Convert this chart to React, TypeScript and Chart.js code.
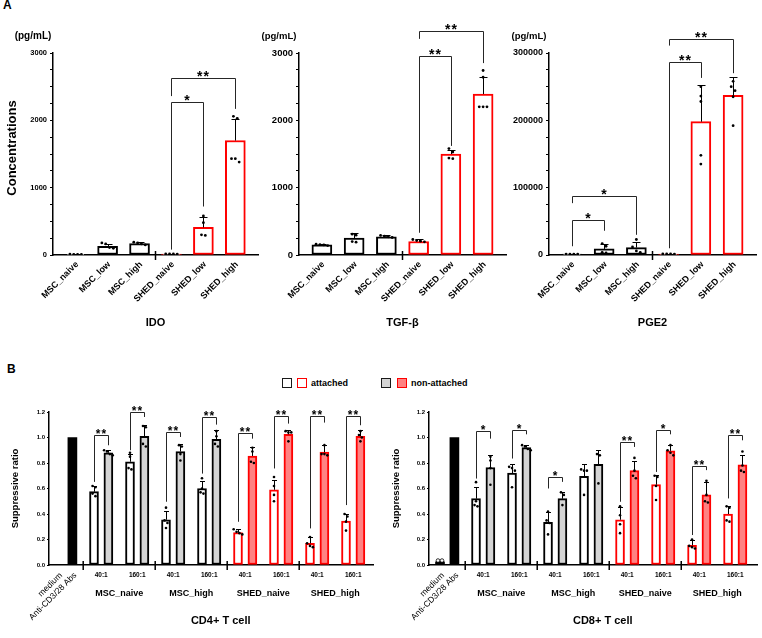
import { useEffect, useRef } from 'react';
import { Chart, registerables } from 'chart.js';

Chart.register(...registerables);

const FONT = "'Liberation Sans', Arial, Helvetica, sans-serif";
const INK = '#000000';
const LINE = '#262626';
const RED = '#ff0000';
const PINK = '#ff8282';
const GREY = '#d4d4d4';

// ---------- A: cytokine secretion (pg/mL) ----------
const cytokineGroups = ['MSC_naive', 'MSC_low', 'MSC_high', 'SHED_naive', 'SHED_low', 'SHED_high'];

const idoMeans = [10, 130, 170, 15, 410, 1700];
const idoSds = [4, 40, 20, 5, 150, 320];
const idoPoints = [
  [10, 11, 9, 10],
  [180, 165, 110, 100],
  [190, 180, 165, 150],
  [15, 16, 14, 15],
  [580, 480, 300, 290],
  [2060, 2030, 1430, 1430, 1380],
];
// [from, to, bracket level, left leg end, right leg end, label]
const idoBrackets: Bracket[] = [
  [3, 4, 2270, 80, 720, '*'],
  [3, 5, 2635, 2360, 2170, '**'],
];

const tgfMeans = [150, 250, 270, 200, 1500, 2390];
const tgfSds = [12, 75, 25, 45, 65, 260];
const tgfPoints = [
  [160, 155, 150, 140],
  [310, 295, 200, 190],
  [290, 280, 270, 260],
  [230, 215, 205, 195],
  [1580, 1530, 1440, 1430],
  [2740, 2640, 2200, 2200, 2200],
];
const tgfBrackets: Bracket[] = [
  [3, 4, 2950, 330, 1620, '**'],
  [3, 5, 3320, 3210, 2850, '**'],
];

const pgeMeans = [1200, 9000, 11000, 1500, 198000, 237000];
const pgeSds = [300, 8000, 9000, 400, 55000, 28000];
const pgePoints = [
  [1200, 1100, 1300, 1200],
  [17000, 13000, 4000, 3000],
  [23000, 12000, 6000, 4000],
  [1500, 1400, 1600, 1500],
  [250000, 236000, 228000, 148000, 135000],
  [258000, 250000, 244000, 235000, 192000],
];
const pgeBrackets: Bracket[] = [
  [0, 1, 52000, 13000, 36000, '*'],
  [0, 2, 88000, 77000, 30000, '*'],
  [3, 4, 287000, 10000, 263000, '**'],
  [3, 5, 321000, 311000, 270000, '**'],
];

// ---------- B: suppressive ratio of T cell proliferation ----------
const controlLabels = ['medium', 'Anti-CD3/28 Abs'];
const cellGroups = ['MSC_naive', 'MSC_high', 'SHED_naive', 'SHED_high'];
const ratios = ['40:1', '160:1'];

const cd4Controls = [0.004, 1.0];
const cd4Attached = [0.575, 0.81, 0.355, 0.6, 0.255, 0.59, 0.17, 0.345];
const cd4AttachedSd = [0.045, 0.06, 0.07, 0.057, 0.025, 0.08, 0.05, 0.055];
const cd4AttachedPoints = [
  [0.62, 0.61, 0.56, 0.54],
  [0.88, 0.85, 0.76, 0.75],
  [0.45, 0.35, 0.33, 0.29],
  [0.68, 0.6, 0.57, 0.56],
  [0.28, 0.26, 0.25, 0.24],
  [0.69, 0.62, 0.55, 0.5],
  [0.22, 0.17, 0.15, 0.14],
  [0.4, 0.38, 0.34, 0.27],
];
const cd4NonAttached = [0.88, 1.01, 0.89, 0.985, 0.855, 1.025, 0.885, 1.01];
const cd4NonAttachedSd = [0.02, 0.085, 0.057, 0.07, 0.07, 0.035, 0.06, 0.045];
const cd4NonAttachedPoints = [
  [0.9, 0.89, 0.87, 0.86],
  [1.09, 1.08, 0.95, 0.93],
  [0.94, 0.93, 0.87, 0.82],
  [1.05, 1.01, 0.95, 0.93],
  [0.92, 0.89, 0.81, 0.8],
  [1.05, 1.04, 1.04, 0.97],
  [0.94, 0.87, 0.87, 0.86],
  [1.05, 1.02, 1.0, 0.97],
];
const cd4SigLabels = ['**', '**', '**', '**', '**', '**', '**', '**'];
const cd4SigLevel = [1.017, 1.2, 1.044, 1.161, 1.038, 1.169, 1.169, 1.169];
const cd4SigLeftEnd = [0.652, 0.9, 0.496, 0.717, 0.339, 0.757, 0.287, 0.47];
const cd4SigRightEnd = [0.939, 1.161, 1.004, 1.101, 0.991, 1.109, 1.117, 1.096];

const cd8Controls = [0.025, 1.0];
const cd8MediumPoints = [0.035, 0.035];
const cd8Attached = [0.52, 0.72, 0.335, 0.695, 0.355, 0.63, 0.155, 0.4];
const cd8AttachedSd = [0.095, 0.075, 0.08, 0.1, 0.1, 0.075, 0.04, 0.06];
const cd8AttachedPoints = [
  [0.65, 0.5, 0.47, 0.46],
  [0.77, 0.76, 0.74, 0.61],
  [0.42, 0.35, 0.33, 0.24],
  [0.75, 0.74, 0.74, 0.55],
  [0.46, 0.39, 0.32, 0.25],
  [0.7, 0.69, 0.62, 0.51],
  [0.2, 0.15, 0.14, 0.13],
  [0.46, 0.45, 0.35, 0.34],
];
const cd8NonAttached = [0.765, 0.92, 0.52, 0.79, 0.74, 0.895, 0.55, 0.785];
const cd8NonAttachedSd = [0.1, 0.025, 0.05, 0.115, 0.075, 0.045, 0.1, 0.075];
const cd8NonAttachedPoints = [
  [0.85, 0.82, 0.76, 0.63],
  [0.94, 0.93, 0.91, 0.9],
  [0.57, 0.55, 0.47],
  [0.87, 0.86, 0.64],
  [0.84, 0.74, 0.7, 0.68],
  [0.94, 0.9, 0.88, 0.86],
  [0.66, 0.55, 0.5, 0.49],
  [0.89, 0.78, 0.74, 0.73],
];
const cd8SigLabels = ['*', '*', '*', '', '**', '*', '**', '**'];
const cd8SigLevel = [1.049, 1.062, 0.691, 0, 0.965, 1.062, 0.777, 1.023];
const cd8SigLeftEnd = [0.678, 0.835, 0.6, 0, 0.496, 0.73, 0.235, 0.522];
const cd8SigRightEnd = [0.991, 1.025, 0.652, 0, 0.926, 1.025, 0.744, 0.978];

type Bracket = [number, number, number, number, number, string];

interface OverlaySpec {
  errors: { x: number; y: number; sd: number }[];
  cap: number;
  brackets: Bracket[];
  starSize: number;
  starLift: number;
  breaks: number[];
  text: (chart: any, ctx: CanvasRenderingContext2D) => void;
}

// Side-by-side placement of replicate dots that sit at almost the same height
function spread(values: number[], tol: number, step: number): number[] {
  const order = values.map((_, i) => i).sort((a, b) => values[b] - values[a]);
  const offsets = new Array(values.length).fill(0);
  let cluster: number[] = [];
  const flush = () => {
    cluster.forEach((idx, k) => {
      offsets[idx] = (k - (cluster.length - 1) / 2) * step;
    });
    cluster = [];
  };
  order.forEach((idx) => {
    if (cluster.length && Math.abs(values[cluster[cluster.length - 1]] - values[idx]) > tol) flush();
    cluster.push(idx);
  });
  flush();
  return offsets;
}

function dotData(xs: number[], pts: number[][], tol: number, step: number) {
  return pts.flatMap((vals, i) => {
    const off = spread(vals, tol, step);
    return vals.map((v, k) => ({ x: xs[i] + off[k], y: v }));
  });
}

function overlay(spec: OverlaySpec) {
  return {
    id: 'overlay',
    afterDatasetsDraw(chart: any) {
      const { ctx, chartArea } = chart;
      const xs = chart.scales.x;
      const ys = chart.scales.y;
      ctx.save();
      // error bars (mean + SD)
      ctx.strokeStyle = INK;
      ctx.lineWidth = 1;
      spec.errors.forEach((e) => {
        const px = Math.round(xs.getPixelForValue(e.x)) + 0.5;
        const y0 = ys.getPixelForValue(e.y);
        const y1 = Math.round(ys.getPixelForValue(e.y + e.sd)) + 0.5;
        ctx.beginPath();
        ctx.moveTo(px, y0);
        ctx.lineTo(px, y1);
        ctx.moveTo(px - spec.cap, y1);
        ctx.lineTo(px + spec.cap, y1);
        ctx.stroke();
      });
      // axis break marks
      ctx.lineWidth = 1.5;
      spec.breaks.forEach((b) => {
        const px = xs.getPixelForValue(b);
        ctx.beginPath();
        ctx.moveTo(px, chartArea.bottom - 4);
        ctx.lineTo(px, chartArea.bottom + 5);
        ctx.stroke();
      });
      // significance brackets
      ctx.strokeStyle = LINE;
      ctx.lineWidth = 1;
      ctx.fillStyle = INK;
      ctx.font = `bold ${spec.starSize}px ${FONT}`;
      ctx.textAlign = 'center';
      ctx.textBaseline = 'alphabetic';
      spec.brackets.forEach(([x1, x2, level, l, r, label]) => {
        if (!label) return;
        const a = Math.round(xs.getPixelForValue(x1)) + 0.5;
        const b = Math.round(xs.getPixelForValue(x2)) + 0.5;
        const t = Math.round(ys.getPixelForValue(level)) + 0.5;
        ctx.beginPath();
        ctx.moveTo(a, ys.getPixelForValue(l));
        ctx.lineTo(a, t);
        ctx.lineTo(b, t);
        ctx.lineTo(b, ys.getPixelForValue(r));
        ctx.stroke();
        (ctx as any).letterSpacing = '1px';
        ctx.fillText(label, (a + b) / 2, t + spec.starLift);
        (ctx as any).letterSpacing = '0px';
      });
      spec.text(chart, ctx);
      ctx.restore();
    },
  };
}

interface CytokineSpec {
  title: string;
  yTitle?: string;
  means: number[];
  sds: number[];
  points: number[][];
  brackets: Bracket[];
  max: number;
  minorStep: number;
  majorStep: number;
  axisWidth: number;
  padRight: number;
  tickSize: number;
  unitSize: number;
}

function cytokineConfig(s: CytokineSpec): any {
  const xs = cytokineGroups.map((_, i) => i);
  const shed = (i: number) => cytokineGroups[i].startsWith('SHED');
  return {
    type: 'bar',
    data: {
      datasets: [
        {
          type: 'bar',
          data: xs.map((i) => ({ x: i, y: s.means[i] })),
          backgroundColor: '#ffffff',
          borderColor: xs.map((i) => (shed(i) ? RED : INK)),
          borderWidth: 2,
          borderSkipped: false,
          barThickness: 20,
          grouped: false,
          order: 2,
        },
        {
          type: 'scatter',
          data: dotData(xs, s.points, s.max * 0.02, 0.12),
          pointRadius: 1.4,
          pointBackgroundColor: INK,
          pointBorderWidth: 0,
          order: 1,
        },
      ],
    },
    options: {
      animation: false,
      responsive: false,
      events: [],
      layout: { padding: { top: 53, right: s.padRight, left: 0, bottom: 0 } },
      plugins: { legend: { display: false }, tooltip: { enabled: false } },
      scales: {
        x: {
          type: 'linear',
          min: -0.71,
          max: 5.71,
          offset: false,
          grid: { display: false },
          ticks: { display: false },
          border: { display: true, color: INK, width: 1.5 },
          afterFit: (sc: any) => {
            sc.height = 80;
          },
        },
        y: {
          type: 'linear',
          min: 0,
          max: s.max,
          grid: { display: true, drawOnChartArea: false, drawTicks: true, tickLength: 3, color: INK, lineWidth: 1 },
          border: { display: true, color: INK, width: 1.5 },
          ticks: {
            stepSize: s.minorStep,
            autoSkip: false,
            padding: 3,
            color: INK,
            font: { family: FONT, size: s.tickSize, weight: 'bold' },
            callback: (v: number) => (Math.abs(v % s.majorStep) < 1e-6 ? String(v) : ''),
          },
          afterFit: (sc: any) => {
            sc.width = s.axisWidth;
          },
        },
      },
    },
    plugins: [
      overlay({
        errors: xs.map((i) => ({ x: i, y: s.means[i], sd: s.sds[i] })),
        cap: 4,
        brackets: s.brackets,
        starSize: 14,
        starLift: 2,
        breaks: [2.5],
        text: (chart, ctx) => {
          const area = chart.chartArea;
          const x = chart.scales.x;
          ctx.fillStyle = INK;
          ctx.font = `bold 9px ${FONT}`;
          ctx.textAlign = 'right';
          ctx.textBaseline = 'middle';
          cytokineGroups.forEach((g, i) => {
            ctx.save();
            ctx.translate(x.getPixelForValue(i) + 1.5, area.bottom + 8);
            ctx.rotate(-Math.PI / 4);
            ctx.fillText(g, 0, 0);
            ctx.restore();
          });
          ctx.textAlign = 'center';
          ctx.font = `bold ${s.unitSize}px ${FONT}`;
          ctx.fillText('(pg/mL)', area.left - 20, area.top - 17);
          ctx.font = `bold 11px ${FONT}`;
          ctx.fillText(s.title, (area.left + area.right) / 2, area.bottom + 68);
          if (s.yTitle) {
            ctx.save();
            ctx.translate(12, area.top + 95);
            ctx.rotate(-Math.PI / 2);
            ctx.font = `bold 13px ${FONT}`;
            ctx.fillText(s.yTitle, 0, 0);
            ctx.restore();
          }
        },
      }),
    ],
  };
}

interface SuppressionSpec {
  title: string;
  controls: number[];
  mediumPoints: number[];
  attached: number[];
  attachedSd: number[];
  attachedPoints: number[][];
  nonAttached: number[];
  nonAttachedSd: number[];
  nonAttachedPoints: number[][];
  sigLabels: string[];
  sigLevel: number[];
  sigLeft: number[];
  sigRight: number[];
  min: number;
  max: number;
  padRight: number;
  yTitleX: number;
}

// x layout: two control bars, then pairs (attached | non-attached) per ratio and cell group
const pairX = (p: number) => 2.5 + 2.5 * p;

function suppressionConfig(s: SuppressionSpec): any {
  const pairs = s.attached.map((_, p) => p);
  const shed = (p: number) => cellGroups[Math.floor(p / ratios.length)].startsWith('SHED');
  const attX = pairs.map(pairX);
  const nonX = pairs.map((p) => pairX(p) + 1);
  const barCommon = { type: 'bar', barThickness: 9, grouped: false, borderSkipped: false, order: 3 };
  return {
    type: 'bar',
    data: {
      datasets: [
        {
          ...barCommon,
          data: s.controls.map((v, j) => ({ x: j, y: v })),
          backgroundColor: INK,
          borderColor: INK,
          borderWidth: 0,
        },
        {
          ...barCommon,
          data: pairs.map((p) => ({ x: attX[p], y: s.attached[p] })),
          backgroundColor: '#ffffff',
          borderColor: pairs.map((p) => (shed(p) ? RED : INK)),
          borderWidth: 2,
        },
        {
          ...barCommon,
          data: pairs.map((p) => ({ x: nonX[p], y: s.nonAttached[p] })),
          backgroundColor: pairs.map((p) => (shed(p) ? PINK : GREY)),
          borderColor: pairs.map((p) => (shed(p) ? RED : INK)),
          borderWidth: 2,
        },
        {
          type: 'scatter',
          data: [
            ...dotData(attX, s.attachedPoints, 0.025, 0.2),
            ...dotData(nonX, s.nonAttachedPoints, 0.025, 0.2),
          ],
          pointRadius: 1.3,
          pointBackgroundColor: INK,
          pointBorderWidth: 0,
          order: 1,
        },
        {
          type: 'scatter',
          data: dotData([0], [s.mediumPoints], 0.025, 0.28),
          pointRadius: 1.8,
          pointBackgroundColor: '#ffffff',
          pointBorderColor: INK,
          pointBorderWidth: 0.8,
          order: 0,
        },
      ],
    },
    options: {
      animation: false,
      responsive: false,
      events: [],
      layout: { padding: { top: 17, right: s.padRight, left: 0, bottom: 0 } },
      plugins: { legend: { display: false }, tooltip: { enabled: false } },
      scales: {
        x: {
          type: 'linear',
          min: s.min,
          max: s.max,
          offset: false,
          grid: { display: false },
          ticks: { display: false },
          border: { display: true, color: INK, width: 1.5 },
          afterFit: (sc: any) => {
            sc.height = 73;
          },
        },
        y: {
          type: 'linear',
          min: 0,
          max: 1.2,
          grid: { display: true, drawOnChartArea: false, drawTicks: true, tickLength: 2, color: INK, lineWidth: 1 },
          border: { display: true, color: INK, width: 1.5 },
          ticks: {
            stepSize: 0.2,
            autoSkip: false,
            padding: 2,
            color: INK,
            font: { family: FONT, size: 6, weight: 'bold' },
            callback: (v: number) => Number(v).toFixed(1),
          },
          afterFit: (sc: any) => {
            sc.width = 49;
          },
        },
      },
    },
    plugins: [
      overlay({
        errors: [
          ...pairs.map((p) => ({ x: attX[p], y: s.attached[p], sd: s.attachedSd[p] })),
          ...pairs.map((p) => ({ x: nonX[p], y: s.nonAttached[p], sd: s.nonAttachedSd[p] })),
        ],
        cap: 2.5,
        brackets: pairs.map((p) => [attX[p], nonX[p], s.sigLevel[p], s.sigLeft[p], s.sigRight[p], s.sigLabels[p]] as Bracket),
        starSize: 12,
        starLift: 2,
        breaks: cellGroups.map((_, g) => 1.75 + 5 * g),
        text: (chart, ctx) => {
          const area = chart.chartArea;
          const x = chart.scales.x;
          ctx.fillStyle = INK;
          ctx.textAlign = 'right';
          ctx.textBaseline = 'middle';
          ctx.font = `8.5px ${FONT}`;
          controlLabels.forEach((lab, j) => {
            ctx.save();
            ctx.translate(x.getPixelForValue(j) + 3, area.bottom + 9);
            ctx.rotate(-Math.PI / 4);
            ctx.fillText(lab, 0, 0);
            ctx.restore();
          });
          ctx.textAlign = 'center';
          ctx.font = `bold 6.5px ${FONT}`;
          pairs.forEach((p) => {
            ctx.fillText(ratios[p % ratios.length], x.getPixelForValue(attX[p] + 0.5), area.bottom + 10);
          });
          ctx.font = `bold 9px ${FONT}`;
          cellGroups.forEach((g, gi) => {
            const first = pairX(gi * ratios.length) + 0.5;
            const last = pairX(gi * ratios.length + ratios.length - 1) + 0.5;
            ctx.fillText(g, x.getPixelForValue((first + last) / 2), area.bottom + 29);
          });
          ctx.font = `bold 11px ${FONT}`;
          ctx.fillText(s.title, x.getPixelForValue(11.3), area.bottom + 56);
          ctx.save();
          ctx.translate(s.yTitleX, (area.top + area.bottom) / 2);
          ctx.rotate(-Math.PI / 2);
          ctx.font = `bold 9.5px ${FONT}`;
          ctx.fillText('Suppressive ratio', 0, 0);
          ctx.restore();
        },
      }),
    ],
  };
}

function ChartCanvas({ config, left, top, width, height }: { config: any; left: number; top: number; width: number; height: number }) {
  const ref = useRef<HTMLCanvasElement>(null);
  useEffect(() => {
    if (!ref.current) return;
    const chart = new Chart(ref.current, config);
    return () => chart.destroy();
  }, [config]);
  return (
    <canvas
      ref={ref}
      width={width}
      height={height}
      style={{ position: 'absolute', left, top, width, height }}
    />
  );
}

const idoConfig = cytokineConfig({
  title: 'IDO',
  yTitle: 'Concentrations',
  means: idoMeans,
  sds: idoSds,
  points: idoPoints,
  brackets: idoBrackets,
  max: 3000,
  minorStep: 250,
  majorStep: 1000,
  axisWidth: 53,
  padRight: 2,
  tickSize: 7.5,
  unitSize: 10,
});
const tgfConfig = cytokineConfig({
  title: 'TGF-β',
  means: tgfMeans,
  sds: tgfSds,
  points: tgfPoints,
  brackets: tgfBrackets,
  max: 3000,
  minorStep: 250,
  majorStep: 1000,
  axisWidth: 44,
  padRight: 3,
  tickSize: 9.5,
  unitSize: 9.5,
});
const pgeConfig = cytokineConfig({
  title: 'PGE2',
  means: pgeMeans,
  sds: pgeSds,
  points: pgePoints,
  brackets: pgeBrackets,
  max: 300000,
  minorStep: 25000,
  majorStep: 100000,
  axisWidth: 44,
  padRight: 6,
  tickSize: 9,
  unitSize: 9.5,
});
const cd4Config = suppressionConfig({
  title: 'CD4+ T cell',
  controls: cd4Controls,
  mediumPoints: [],
  attached: cd4Attached,
  attachedSd: cd4AttachedSd,
  attachedPoints: cd4AttachedPoints,
  nonAttached: cd4NonAttached,
  nonAttachedSd: cd4NonAttachedSd,
  nonAttachedPoints: cd4NonAttachedPoints,
  sigLabels: cd4SigLabels,
  sigLevel: cd4SigLevel,
  sigLeft: cd4SigLeftEnd,
  sigRight: cd4SigRightEnd,
  min: -0.625,
  max: 21.875,
  padRight: 7,
  yTitleX: 15,
});
const cd8Config = suppressionConfig({
  title: 'CD8+ T cell',
  controls: cd8Controls,
  mediumPoints: cd8MediumPoints,
  attached: cd8Attached,
  attachedSd: cd8AttachedSd,
  attachedPoints: cd8AttachedPoints,
  nonAttached: cd8NonAttached,
  nonAttachedSd: cd8NonAttachedSd,
  nonAttachedPoints: cd8NonAttachedPoints,
  sigLabels: cd8SigLabels,
  sigLevel: cd8SigLevel,
  sigLeft: cd8SigLeftEnd,
  sigRight: cd8SigRightEnd,
  min: -0.764,
  max: 22.01,
  padRight: 5,
  yTitleX: 16.5,
});

const swatch = (left: number, fill: string, stroke: string) => (
  <div
    style={{
      position: 'absolute',
      left,
      top: 378,
      width: 10,
      height: 10,
      boxSizing: 'border-box',
      border: `1.5px solid ${stroke}`,
      background: fill,
    }}
  />
);

const legendText: React.CSSProperties = {
  position: 'absolute',
  top: 377,
  fontFamily: FONT,
  fontWeight: 'bold',
  fontSize: 9,
  lineHeight: '12px',
  color: INK,
  whiteSpace: 'nowrap',
};

export default function App() {
  return (
    <div
      style={{
        position: 'absolute',
        left: 0,
        top: 0,
        width: 762,
        height: 638,
        background: '#ffffff',
        overflow: 'hidden',
        fontFamily: FONT,
      }}
    >
      <div style={{ position: 'absolute', left: 3, top: -1, fontSize: 12, lineHeight: '12px', fontWeight: 'bold' }}>A</div>
      <div style={{ position: 'absolute', left: 7, top: 363, fontSize: 12, lineHeight: '12px', fontWeight: 'bold' }}>B</div>

      <ChartCanvas config={idoConfig} left={0} top={0} width={262} height={335} />
      <ChartCanvas config={tgfConfig} left={255} top={0} width={255} height={335} />
      <ChartCanvas config={pgeConfig} left={505} top={0} width={257} height={335} />

      {swatch(282, '#ffffff', '#1a1a1a')}
      {swatch(297, '#ffffff', RED)}
      <div style={{ ...legendText, left: 311 }}>attached</div>
      {swatch(381, GREY, '#1a1a1a')}
      {swatch(397, PINK, RED)}
      <div style={{ ...legendText, left: 411 }}>non-attached</div>

      <ChartCanvas config={cd4Config} left={0} top={395} width={380} height={243} />
      <ChartCanvas config={cd8Config} left={380} top={395} width={382} height={243} />
    </div>
  );
}
